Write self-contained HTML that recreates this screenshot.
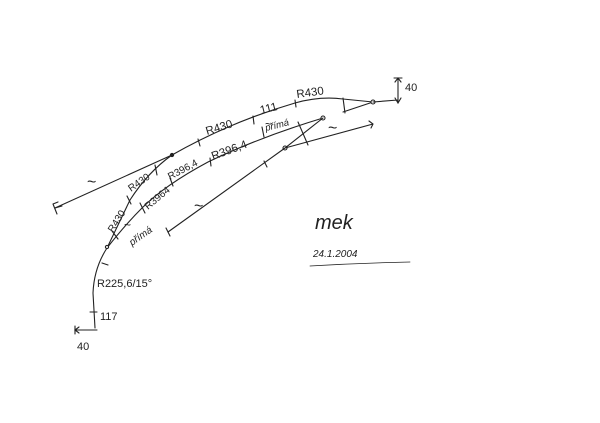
<!DOCTYPE html>
<html><head><style>html,body{margin:0;padding:0;background:#fff}svg{display:block}</style></head><body>
<svg width="600" height="423" viewBox="0 0 600 423" xmlns="http://www.w3.org/2000/svg" font-family="Liberation Sans, sans-serif" fill="none" stroke="#222" stroke-width="1.1" stroke-linecap="round">
<path d="M95,328 L93,293 Q94,268 107,248 Q118,225 130,200 Q148,172 172,155 Q230,122 295,103 Q320,96 343,99 L373,102"/>
<path d="M107,248 Q125,225 142,208 Q165,185 208,162 Q260,137 323,118"/>
<path d="M343,112 L373,102"/>
<path d="M343,98 L345,113"/>
<circle cx="373" cy="102" r="2" fill="#fff"/>
<circle cx="323" cy="118" r="2" fill="#fff"/>
<circle cx="285" cy="148" r="2" fill="#fff"/>
<circle cx="172" cy="155" r="1.6" fill="#222"/>
<circle cx="107" cy="247" r="1.6" fill="#fff"/>
<path d="M55,208 L172,155"/>
<path d="M53,204 L57,214 M55,208 L62,206 M53,204 L58,202"/>
<path d="M155,165 L157,175"/>
<path d="M168,232 L285,148 L323,118 M285,148 L373,124 M369,121 L373,124 L371,128"/>
<path d="M298,122 L308,145"/>
<path d="M166,228 L170,236 M264,161 L267,167"/>
<path d="M198,139 L200,146 M253,116 L254,124 M295,100 L296,107 M262,127 L264,137 M210,158 L211,166 M170,178 L173,186 M140,203 L145,213 M127,196 L131,204 M112,231 L118,239 M102,263 L108,265 M90,312 L97,312"/>
<path d="M75,330 L97,330 M79,327 L75,330 L79,333 M75,326 L75,334"/>
<path d="M373,102 L398,100 M398,78 L398,103 M395,82 L398,78 L401,82 M395,98 L398,103 L401,98 M394,78 L402,78"/>
<path d="M310,266 Q360,263 410,262" stroke-width="0.8"/>
<g fill="#222" stroke="none" font-size="11.5">
<text transform="translate(207,135) rotate(-17)">R430</text>
<text transform="translate(261,114) rotate(-14)">111</text>
<text transform="translate(297,98) rotate(-8)">R430</text>
<text transform="translate(266,131) rotate(-14)" font-size="9.5" font-style="italic">přímá</text>
<text transform="translate(213,160) rotate(-20)">R396,4</text>
<text transform="translate(170,180) rotate(-28)" font-size="10">R396,4</text>
<text transform="translate(148,210) rotate(-40)" font-size="10">R3964</text>
<text transform="translate(131,192) rotate(-35)" font-size="10">R430</text>
<text transform="translate(113,233) rotate(-58)" font-size="10">R430</text>
<text transform="translate(132,246) rotate(-35)" font-size="10" font-style="italic">přímá</text>
<text x="97" y="287" font-size="11">R225,6/15°</text>
<text x="100" y="320" font-size="11">117</text>
<text x="77" y="350" font-size="11">40</text>
<text x="405" y="91" font-size="11">40</text>
<text x="87" y="187" font-size="16">~</text>
<text x="194" y="211" font-size="16">~</text>
<text x="328" y="133" font-size="16">~</text>
<text x="124" y="229" font-size="12">~</text>
<text x="265" y="128" font-size="12">~</text>
<text x="315" y="229" font-size="20" font-style="italic">mek</text>
<text x="313" y="257" font-size="10" font-style="italic">24.1.2004</text>
</g>
</svg>
</body></html>
